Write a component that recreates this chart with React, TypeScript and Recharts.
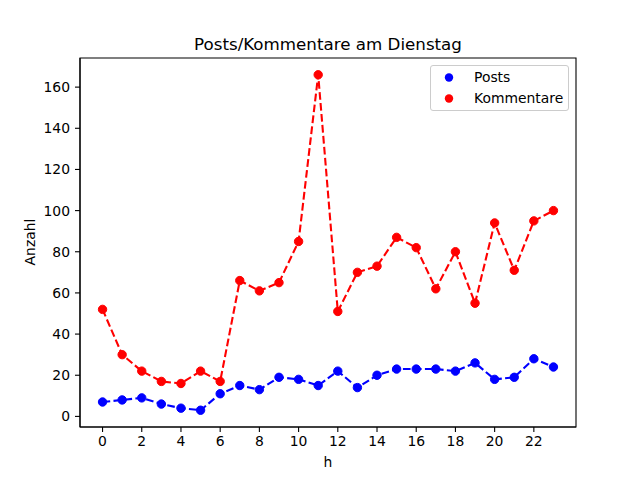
import React from 'react';
import { LineChart, Line, XAxis, YAxis, ReferenceArea } from 'recharts';

const hours = [0, 1, 2, 3, 4, 5, 6, 7, 8, 9, 10, 11, 12, 13, 14, 15, 16, 17, 18, 19, 20, 21, 22, 23];
const posts = [7, 8, 9, 6, 4, 3, 11, 15, 13, 19, 18, 15, 22, 14, 20, 23, 23, 23, 22, 26, 18, 19, 28, 24];
const kommentare = [52, 30, 22, 17, 16, 22, 17, 66, 61, 65, 85, 166, 51, 70, 73, 87, 82, 62, 80, 55, 94, 71, 95, 100];
const xTicks = [0, 2, 4, 6, 8, 10, 12, 14, 16, 18, 20, 22];
const yTicks = [0, 20, 40, 60, 80, 100, 120, 140, 160];
const seriesNames = ['Posts', 'Kommentare'];
const seriesColors = ['#0000ff', '#ff0000'];

const data = hours.map((h, i) => ({ h, posts: posts[i], kommentare: kommentare[i] }));

const FONT = '"DejaVu Sans", sans-serif';
const tickStyle = { fill: '#000', fontSize: 13.9, fontFamily: FONT };

export default function App() {
  return (
    <div style={{ position: 'absolute', left: 0, top: 0, width: 640, height: 480, background: '#fff', fontFamily: FONT }}>
      <LineChart width={640} height={480} data={data} margin={{ top: 58, right: 64, bottom: 0, left: 0 }}>
        <XAxis
          type="number"
          dataKey="h"
          domain={[-1.15, 24.15]}
          ticks={xTicks}
          interval={0}
          allowDataOverflow
          height={53}
          tickSize={5}
          tickMargin={4}
          tick={tickStyle}
          axisLine={{ stroke: '#000', strokeWidth: 1.1 }}
          tickLine={{ stroke: '#000', strokeWidth: 1.1 }}
        />
        <YAxis
          type="number"
          domain={[-5.15, 174.15]}
          ticks={yTicks}
          interval={0}
          allowDataOverflow
          width={80}
          tickSize={5}
          tickMargin={5}
          tick={tickStyle}
          axisLine={{ stroke: '#000', strokeWidth: 1.1 }}
          tickLine={{ stroke: '#000', strokeWidth: 1.1 }}
        />
        <ReferenceArea x1={-1.15} x2={24.15} y1={-5.15} y2={174.15} fill="none" stroke="#000" strokeWidth={1.1} ifOverflow="visible" />
        <Line
          type="linear"
          dataKey="posts"
          stroke={seriesColors[0]}
          strokeWidth={2.1}
          strokeDasharray="7.7 3.3"
          dot={{ r: 4.2, fill: seriesColors[0], stroke: seriesColors[0], strokeWidth: 1, strokeDasharray: '' }}
          isAnimationActive={false}
        />
        <Line
          type="linear"
          dataKey="kommentare"
          stroke={seriesColors[1]}
          strokeWidth={2.1}
          strokeDasharray="7.7 3.3"
          dot={{ r: 4.2, fill: seriesColors[1], stroke: seriesColors[1], strokeWidth: 1, strokeDasharray: '' }}
          isAnimationActive={false}
        />
      </LineChart>

      <div style={{ position: 'absolute', left: 80, width: 496, top: 35, textAlign: 'center', fontSize: 16.7, lineHeight: '18px', color: '#000' }}>
        Posts/Kommentare am Dienstag
      </div>
      <div style={{ position: 'absolute', left: 80, width: 496, top: 454, textAlign: 'center', fontSize: 13.9, lineHeight: '16px', color: '#000' }}>
        h
      </div>
      <div style={{ position: 'absolute', left: 30 - 60, top: 242 - 8, width: 120, textAlign: 'center', fontSize: 13.9, lineHeight: '16px', color: '#000', transform: 'rotate(-90deg)' }}>
        Anzahl
      </div>

      <div style={{ position: 'absolute', left: 430, top: 65, width: 137, height: 44, border: '1px solid #cccccc', borderRadius: 3, background: 'rgba(255,255,255,0.8)' }}>
        {seriesNames.map((name, i) => (
          <div key={name} style={{ position: 'absolute', left: 0, top: 2 + i * 21, height: 21, width: 137 }}>
            <svg width={20} height={20} style={{ position: 'absolute', left: 8, top: 0 }}>
              <circle cx={10} cy={9.5} r={4.2} fill={seriesColors[i]} />
            </svg>
            <span style={{ position: 'absolute', left: 43, top: 1, fontSize: 13.9, lineHeight: '16px', color: '#000', whiteSpace: 'nowrap' }}>{name}</span>
          </div>
        ))}
      </div>
    </div>
  );
}
